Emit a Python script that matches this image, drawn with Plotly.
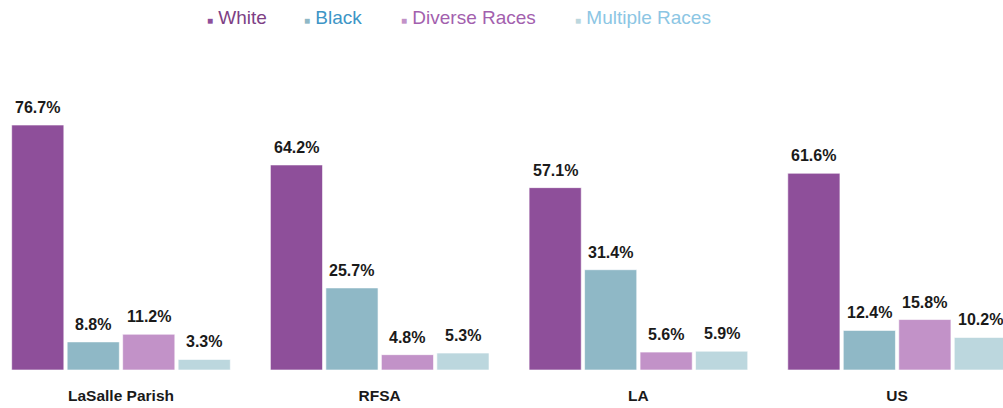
import plotly.graph_objects as go

# Population share by race, per geography
regions = ["LaSalle Parish", "RFSA", "LA", "US"]
white = [76.7, 64.2, 57.1, 61.6]
black = [8.8, 25.7, 31.4, 12.4]
diverse = [11.2, 4.8, 5.6, 15.8]
multiple = [3.3, 5.3, 5.9, 10.2]

series_names = ["White", "Black", "Diverse Races", "Multiple Races"]
series_values = [white, black, diverse, multiple]
bar_colors = ["#8E4F9A", "#8FB8C6", "#C292C8", "#BCD7DE"]
legend_text_colors = ["#7E3F85", "#3D95C6", "#A35FAE", "#8CC6E4"]

W, H = 1003, 408
MT, MB = 60, 38
BARGAP = 0.142
GROUPGAP = 0.06

fig = go.Figure()
for name, vals, col in zip(series_names, series_values, bar_colors):
    fig.add_trace(go.Bar(
        x=regions, y=vals, name=name,
        marker=dict(color=col, line=dict(color="rgba(255,255,255,0.6)", width=1)),
        showlegend=False, hoverinfo="x+y+name",
    ))

# value labels above each bar, centred on its slot within the group
n = len(series_values)
slot = (1 - BARGAP) / n
annotations = []
for j, vals in enumerate(series_values):
    for i, v in enumerate(vals):
        xc = i - (1 - BARGAP) / 2 + slot * (j + 0.5)
        annotations.append(dict(
            x=xc, y=v, xref="x", yref="y", text=f"<b>{v:.1f}%</b>",
            showarrow=False, yanchor="bottom", yshift=7,
            font=dict(family="Liberation Sans, Arial, sans-serif", size=16, color="#1a1a1a"),
        ))

# legend row across the top (paper y is relative to the plot area)
plot_h = H - MT - MB
legend_y = (H - MB - 17) / plot_h
legend_x = [205, 302, 399, 573]
for lx, name, mcol, tcol in zip(legend_x, series_names, bar_colors, legend_text_colors):
    annotations.append(dict(
        x=lx / W, y=legend_y, xref="paper", yref="paper",
        xanchor="left", yanchor="middle", showarrow=False,
        text=(f"<span style='color:{mcol};font-size:10px'>■</span>"
              f"<span style='color:{tcol}'> {name}</span>"),
        font=dict(family="Liberation Sans, Arial, sans-serif", size=19, color=tcol),
    ))

fig.update_layout(
    width=W, height=H,
    margin=dict(l=0, r=0, t=MT, b=MB),
    paper_bgcolor="white", plot_bgcolor="white",
    barmode="group", bargap=BARGAP, bargroupgap=GROUPGAP,
    annotations=annotations,
    xaxis=dict(
        type="category", range=[-0.4677, 3.4093],
        showgrid=False, zeroline=False, showline=False, ticks="",
        ticklabelstandoff=14,
        tickfont=dict(family="Liberation Sans, Arial, sans-serif", size=15.5, color="#1a1a1a"),
        tickprefix="<b>", ticksuffix="</b>",
    ),
    yaxis=dict(range=[0, 97.06], visible=False, showgrid=False, zeroline=False),
)

fig.write_html("out.html")
